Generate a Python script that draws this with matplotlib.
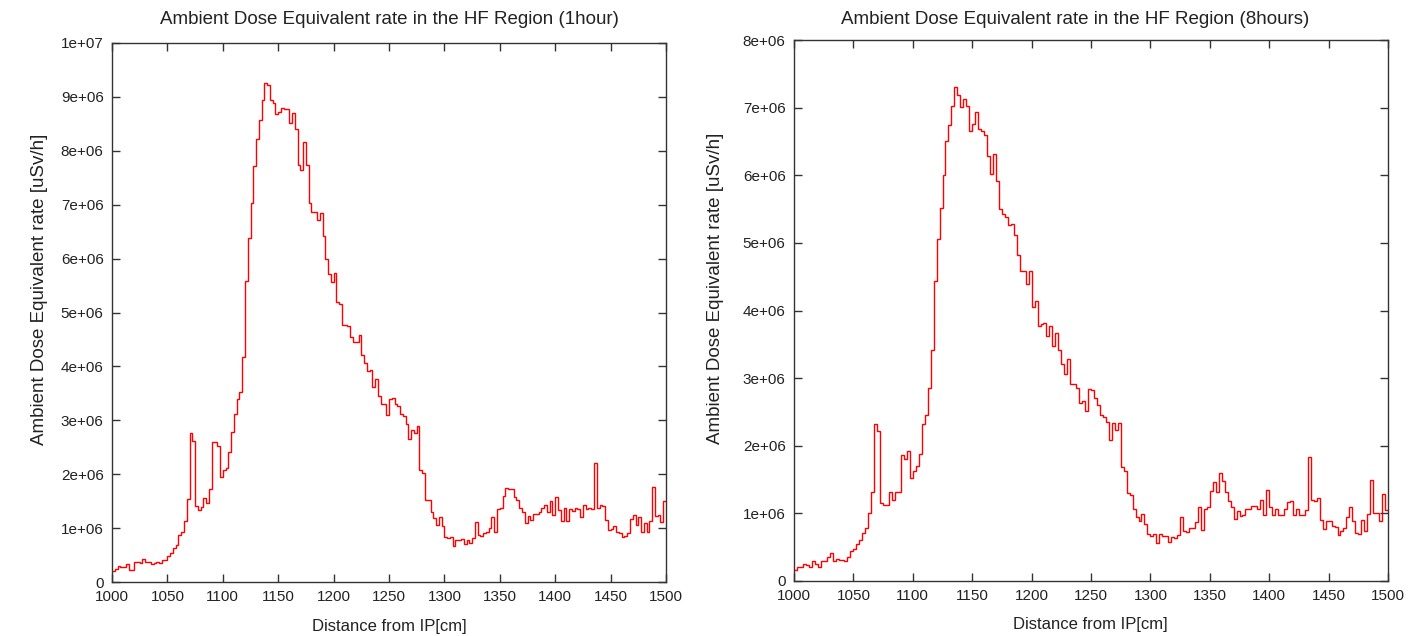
import numpy as np
import matplotlib
matplotlib.use("Agg")
import matplotlib.pyplot as plt
from matplotlib.ticker import FuncFormatter, MultipleLocator

plt.rcParams['font.family'] = ['Liberation Sans', 'DejaVu Sans']

# ---- data (values in units of 1e6 uSv/h, 2.5 cm bins from 1000 to 1500 cm) ----
x_min, x_max, n_bins = 1000, 1500, 200

dose_1h = [
    0.20, 0.24, 0.29, 0.27, 0.27, 0.34, 0.22, 0.22, 0.37, 0.38,
    0.36, 0.42, 0.37, 0.37, 0.34, 0.36, 0.37, 0.35, 0.40, 0.40,
    0.48, 0.54, 0.63, 0.69, 0.87, 0.93, 1.14, 1.54, 2.77, 2.62,
    1.41, 1.34, 1.39, 1.55, 1.46, 1.72, 2.60, 2.59, 2.53, 1.95,
    2.07, 2.12, 2.41, 2.79, 3.11, 3.40, 3.53, 4.18, 5.59, 6.38,
    7.03, 7.72, 8.21, 8.58, 8.94, 9.25, 9.22, 8.95, 8.88, 8.69,
    8.72, 8.79, 8.77, 8.77, 8.52, 8.70, 8.41, 7.74, 7.65, 8.16,
    7.74, 7.04, 6.87, 6.87, 6.72, 6.85, 6.42, 6.00, 5.72, 5.56,
    5.73, 5.20, 5.16, 4.77, 4.77, 4.75, 4.55, 4.46, 4.45, 4.58,
    4.21, 4.06, 3.92, 3.93, 3.62, 3.76, 3.45, 3.31, 3.31, 3.10,
    3.40, 3.41, 3.31, 3.26, 3.12, 3.08, 2.93, 2.66, 2.82, 2.77,
    2.90, 2.08, 2.02, 1.53, 1.52, 1.30, 1.18, 1.06, 1.21, 1.04,
    0.84, 0.81, 0.84, 0.66, 0.78, 0.78, 0.79, 0.70, 0.77, 0.73,
    0.81, 1.12, 0.87, 0.85, 0.90, 0.93, 1.01, 1.20, 0.92, 1.35,
    1.38, 1.60, 1.74, 1.73, 1.73, 1.58, 1.53, 1.38, 1.29, 1.09,
    1.23, 1.15, 1.27, 1.27, 1.30, 1.38, 1.43, 1.29, 1.51, 1.25,
    1.58, 1.34, 1.14, 1.37, 1.14, 1.35, 1.32, 1.37, 1.36, 1.21,
    1.43, 1.35, 1.37, 1.35, 2.20, 1.38, 1.43, 1.41, 1.15, 0.97,
    0.98, 1.03, 0.92, 0.90, 0.83, 0.85, 0.91, 1.17, 1.25, 1.05,
    1.20, 0.92, 1.09, 0.93, 1.13, 1.76, 1.22, 1.24, 1.11, 1.50,
]

dose_8h = [
    0.16, 0.21, 0.21, 0.25, 0.23, 0.21, 0.29, 0.25, 0.21, 0.30,
    0.30, 0.36, 0.42, 0.29, 0.33, 0.31, 0.31, 0.30, 0.36, 0.45,
    0.48, 0.55, 0.61, 0.71, 0.79, 1.01, 1.31, 2.32, 2.22, 1.15,
    1.12, 1.12, 1.31, 1.20, 1.31, 1.31, 1.86, 1.80, 1.92, 1.53,
    1.62, 1.70, 1.88, 2.32, 2.45, 2.86, 3.41, 4.43, 5.06, 5.52,
    6.01, 6.50, 6.75, 7.02, 7.31, 7.18, 7.01, 7.13, 7.02, 6.66,
    6.76, 6.93, 6.69, 6.65, 6.60, 6.28, 6.02, 6.32, 5.91, 5.50,
    5.43, 5.38, 5.26, 5.28, 5.11, 4.82, 4.58, 4.58, 4.39, 4.58,
    4.05, 4.14, 3.77, 3.80, 3.82, 3.62, 3.77, 3.47, 3.66, 3.42,
    3.21, 3.06, 3.28, 2.92, 2.92, 2.85, 2.63, 2.66, 2.52, 2.84,
    2.82, 2.70, 2.60, 2.46, 2.42, 2.35, 2.09, 2.34, 2.24, 2.33,
    1.68, 1.62, 1.30, 1.27, 1.07, 0.94, 0.89, 0.99, 0.85, 0.70,
    0.67, 0.69, 0.56, 0.69, 0.67, 0.67, 0.57, 0.65, 0.64, 0.68,
    0.95, 0.74, 0.72, 0.79, 0.79, 0.87, 1.10, 0.75, 1.07, 1.10,
    1.33, 1.46, 1.32, 1.60, 1.48, 1.32, 1.19, 1.09, 0.92, 1.03,
    0.96, 0.97, 1.06, 1.06, 1.11, 1.11, 1.06, 1.20, 0.97, 1.34,
    1.09, 0.97, 1.06, 0.97, 0.98, 1.06, 1.17, 1.18, 0.97, 1.07,
    0.98, 0.98, 1.05, 1.84, 1.20, 1.18, 1.23, 0.90, 0.77, 0.89,
    0.88, 0.82, 0.80, 0.68, 0.74, 0.78, 0.95, 1.10, 0.88, 0.71,
    0.70, 0.90, 0.74, 0.99, 1.50, 1.01, 1.00, 0.89, 1.28, 1.05,
]

titles = ["Ambient Dose Equivalent rate in the HF Region (1hour)",
          "Ambient Dose Equivalent rate in the HF Region (8hours)"]
xlabel = "Distance from IP[cm]"
ylabel = "Ambient Dose Equivalent rate [uSv/h]"
x_ticks = [1000, 1050, 1100, 1150, 1200, 1250, 1300, 1350, 1400, 1450, 1500]
y_max = [1e7, 8e6]

# ---- figure ----
W, H = 1422, 636
fig = plt.figure(figsize=(W / 100, H / 100), dpi=100)
fig.patch.set_facecolor('white')

# axes boxes in pixels: (left, top, right, bottom)
boxes = [(112, 43, 666, 582), (794, 40, 1388, 581)]
title_pos = [(389, 20), (1075, 19)]
xlabel_pos = [(389, 627), (1090, 625)]
ylabel_pos = [(40, 289), (716, 288)]

edges = np.linspace(x_min, x_max, n_bins + 1)
spine_col = '#333333'

def yfmt(v, pos):
    if v == 0:
        return "0"
    return f"{v:.0e}"

for i, data in enumerate([dose_1h, dose_8h]):
    l, t, r, b = boxes[i]
    ax = fig.add_axes([l / W, 1 - b / H, (r - l) / W, (b - t) / H])
    vals = np.array(data) * 1e6
    ax.stairs(vals, edges, color='red', linewidth=1.0, baseline=None)
    ax.set_xlim(x_min, x_max)
    ax.set_ylim(0, y_max[i])
    ax.set_xticks(x_ticks)
    ax.yaxis.set_major_locator(MultipleLocator(1e6))
    ax.yaxis.set_major_formatter(FuncFormatter(yfmt))
    ax.tick_params(direction='in', top=True, right=True, length=5.5,
                   width=1.0, color=spine_col, labelsize=11, pad=6,
                   labelcolor='#222222')
    for s in ax.spines.values():
        s.set_color(spine_col)
        s.set_linewidth(1.0)
    tx, ty = title_pos[i]
    fig.text(tx / W, 1 - ty / H, titles[i], ha='center', va='center',
             fontsize=13.5, color='#222222')
    xx, xy = xlabel_pos[i]
    fig.text(xx / W, 1 - xy / H, xlabel, ha='center', va='center',
             fontsize=12, color='#222222')
    yx, yy = ylabel_pos[i]
    fig.text(yx / W, 1 - yy / H, ylabel, ha='center', va='center',
             rotation=90, fontsize=13.5, color='#222222')

fig.savefig("out.png", dpi=100, facecolor='white')
